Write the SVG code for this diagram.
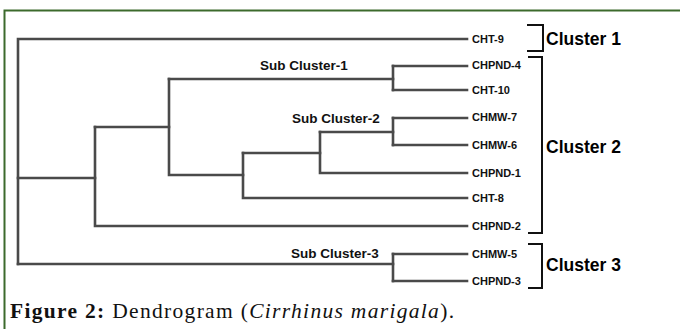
<svg xmlns="http://www.w3.org/2000/svg" width="680" height="329" viewBox="0 0 680 329">
<style>
.br{fill:none;stroke:#4a4a4a;stroke-width:2.6;stroke-linejoin:miter;stroke-linecap:square}
.bk{fill:none;stroke:#111;stroke-width:2;stroke-linecap:butt}
.lf{font-family:"Liberation Sans",Arial,sans-serif;font-weight:bold;font-size:11px;fill:#111}
.sc{font-family:"Liberation Sans",Arial,sans-serif;font-weight:bold;font-size:13.5px;fill:#111}
.cl{font-family:"Liberation Sans",Arial,sans-serif;font-weight:bold;font-size:17.5px;fill:#000}
.cap{font-family:"Liberation Serif","Times New Roman",serif;font-size:21.5px;fill:#111}
</style>
<rect width="680" height="329" fill="#fff"/>
<path d="M4.5 329V10.5H680" fill="none" stroke="#3c6a2c" stroke-width="2"/>
<g id="connectors">
<path class="br" d="M18 264V39H467"/>
<path class="br" d="M18 178H95"/>
<path class="br" d="M95 127V226H467"/>
<path class="br" d="M95 127H169"/>
<path class="br" d="M169 79V175H243"/>
<path class="br" d="M169 79H393"/>
<path class="br" d="M393 66V90"/>
<path class="br" d="M393 66H467M393 90H467"/>
<path class="br" d="M243 153V198H467"/>
<path class="br" d="M243 153H320"/>
<path class="br" d="M320 132V173H467"/>
<path class="br" d="M320 132H393"/>
<path class="br" d="M393 118V145"/>
<path class="br" d="M393 118H467M393 145H467"/>
<path class="br" d="M18 264H393"/>
<path class="br" d="M393 254V281"/>
<path class="br" d="M393 254H467M393 281H467"/>
</g>
<g id="leaf-CHT-9"><text class="lf" x="472" y="43">CHT-9</text></g>
<g id="leaf-CHPND-4"><text class="lf" x="472" y="69">CHPND-4</text></g>
<g id="leaf-CHT-10"><text class="lf" x="472" y="94">CHT-10</text></g>
<g id="leaf-CHMW-7"><text class="lf" x="472" y="121">CHMW-7</text></g>
<g id="leaf-CHMW-6"><text class="lf" x="472" y="149">CHMW-6</text></g>
<g id="leaf-CHPND-1"><text class="lf" x="472" y="177">CHPND-1</text></g>
<g id="leaf-CHT-8"><text class="lf" x="472" y="202">CHT-8</text></g>
<g id="leaf-CHPND-2"><text class="lf" x="472" y="230">CHPND-2</text></g>
<g id="leaf-CHMW-5"><text class="lf" x="472" y="258">CHMW-5</text></g>
<g id="leaf-CHPND-3"><text class="lf" x="472" y="285">CHPND-3</text></g>
<g id="sub-cluster-1"><text class="sc" x="260" y="70">Sub Cluster-1</text></g>
<g id="sub-cluster-2"><text class="sc" x="292" y="123">Sub Cluster-2</text></g>
<g id="sub-cluster-3"><text class="sc" x="291" y="258">Sub Cluster-3</text></g>
<g id="cluster-1">
<path class="bk" d="M527 25H543V51H527"/>
<text class="cl" x="546" y="45">Cluster 1</text>
</g>
<g id="cluster-2">
<path class="bk" d="M528 57H542V233H528"/>
<text class="cl" x="546" y="153">Cluster 2</text>
</g>
<g id="cluster-3">
<path class="bk" d="M528 244H542V288H528"/>
<text class="cl" x="546" y="271">Cluster 3</text>
</g>
<text class="cap" x="10" y="318" textLength="444" lengthAdjust="spacing"><tspan font-weight="bold">Figure 2:</tspan> Dendrogram (<tspan font-style="italic">Cirrhinus marigala</tspan>).</text>
</svg>
